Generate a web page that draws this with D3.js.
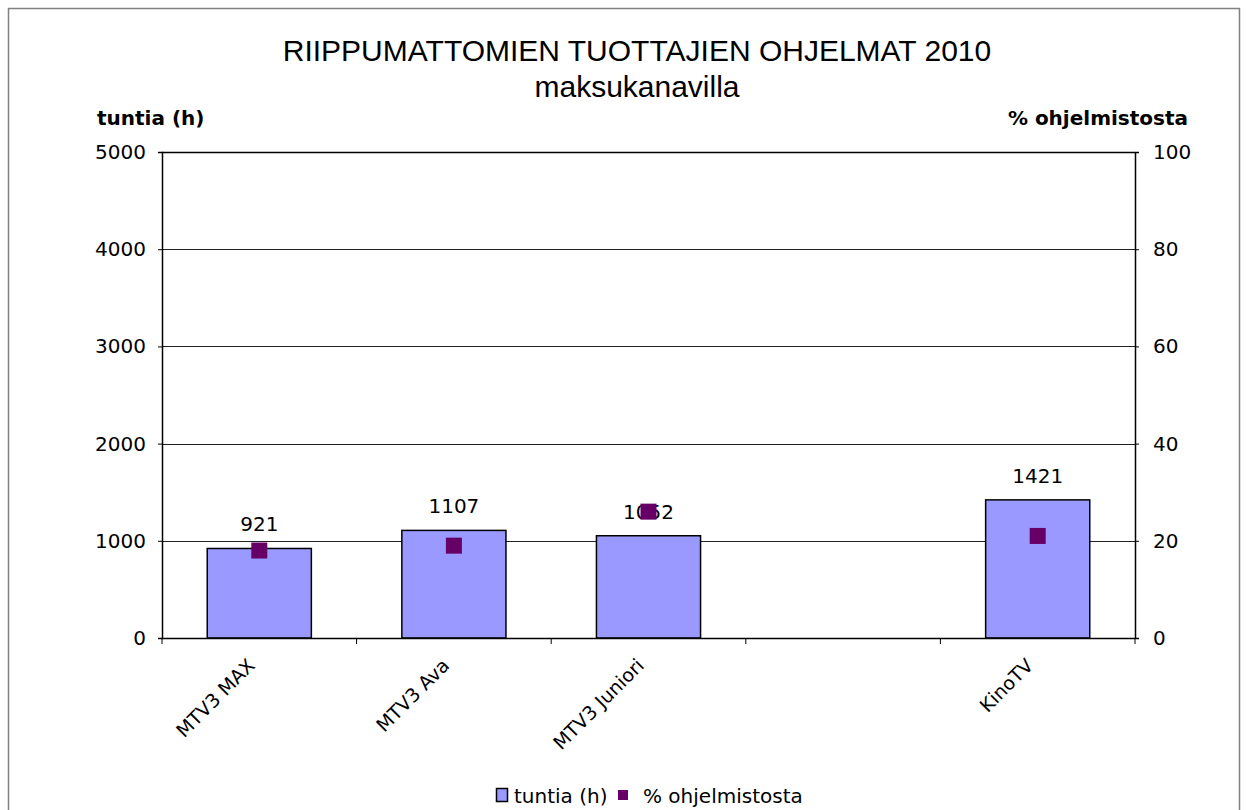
<!DOCTYPE html>
<html>
<head>
<meta charset="utf-8">
<script src="https://cdn.jsdelivr.net/npm/d3@7"></script>
<style>
  body { margin: 0; background: #fff; }
  svg { display: block; }
  text { font-family: "DejaVu Sans", Verdana, sans-serif; fill: #000; }
</style>
</head>
<body>
<div id="chart"></div>
<script>
// data
var categories = ['MTV3 MAX', 'MTV3 Ava', 'MTV3 Juniori', '', 'KinoTV'];
var hours = [921, 1107, 1052, null, 1421];
var percent = [18, 19, 26, null, 21];
var hourTicks = [0, 1000, 2000, 3000, 4000, 5000];
var percentTicks = [0, 20, 40, 60, 80, 100];

var width = 1248, height = 810;
var margin = { top: 152, right: 113, bottom: 172, left: 162 };
var innerW = width - margin.left - margin.right;
var innerH = height - margin.top - margin.bottom;
var fontFam = '"DejaVu Sans", Verdana, sans-serif';

var svg = d3.select('#chart').append('svg')
  .attr('width', width)
  .attr('height', height);

// outer chart border
svg.append('rect')
  .attr('x', 8.5).attr('y', 8.5)
  .attr('width', 1231).attr('height', 820)
  .attr('fill', 'none')
  .attr('stroke', '#808080')
  .attr('stroke-width', 1.5);

// title
svg.append('text')
  .attr('x', 637).attr('y', 61)
  .attr('text-anchor', 'middle')
  .style('font-family', '"Liberation Sans", Arial, sans-serif')
  .style('font-size', '30px')
  .text('RIIPPUMATTOMIEN TUOTTAJIEN OHJELMAT 2010');
svg.append('text')
  .attr('x', 637).attr('y', 97)
  .attr('text-anchor', 'middle')
  .style('font-family', '"Liberation Sans", Arial, sans-serif')
  .style('font-size', '30px')
  .text('maksukanavilla');

// axis titles
svg.append('text')
  .attr('x', 97).attr('y', 125)
  .style('font-size', '20px').style('font-weight', 'bold')
  .text('tuntia (h)');
svg.append('text')
  .attr('x', 1188).attr('y', 125)
  .attr('text-anchor', 'end')
  .style('font-size', '20px').style('font-weight', 'bold')
  .text('% ohjelmistosta');

var g = svg.append('g')
  .attr('transform', 'translate(' + margin.left + ',' + margin.top + ')');

// scales
var x = d3.scaleBand()
  .domain(d3.range(categories.length))
  .range([0, innerW])
  .paddingInner(0.465)
  .paddingOuter(0.2325);

var xb = d3.scaleBand()
  .domain(d3.range(categories.length))
  .range([0, innerW]);

var y = d3.scaleLinear().domain([0, 5000]).range([innerH, 0]);
var y2 = d3.scaleLinear().domain([0, 100]).range([innerH, 0]);

// gridlines
g.append('g')
  .selectAll('line')
  .data(hourTicks.slice(1, -1))
  .join('line')
  .attr('x1', 0).attr('x2', innerW)
  .attr('y1', d => Math.round(y(d)) + 0.5)
  .attr('y2', d => Math.round(y(d)) + 0.5)
  .attr('stroke', '#222')
  .attr('stroke-width', 1);

// top border of plot
g.append('line')
  .attr('x1', 0).attr('x2', innerW)
  .attr('y1', 0.5).attr('y2', 0.5)
  .attr('stroke', '#000').attr('stroke-width', 1.5);

var barData = hours.map((v, i) => ({ v: v, i: i })).filter(d => d.v != null);

// bars
g.append('g')
  .selectAll('rect')
  .data(barData)
  .join('rect')
  .attr('x', d => x(d.i))
  .attr('y', d => y(d.v))
  .attr('width', x.bandwidth())
  .attr('height', d => innerH - y(d.v))
  .attr('fill', '#9999FF')
  .attr('stroke', '#000')
  .attr('stroke-width', 1.5);

// bar labels
g.append('g')
  .selectAll('text')
  .data(barData)
  .join('text')
  .attr('x', d => x(d.i) + x.bandwidth() / 2)
  .attr('y', d => y(d.v) - 17)
  .attr('text-anchor', 'middle')
  .style('font-size', '20px')
  .text(d => d.v);

// percent markers
var ms = 16;
g.append('g')
  .selectAll('rect')
  .data(percent.map((v, i) => ({ v: v, i: i })).filter(d => d.v != null))
  .join('rect')
  .attr('x', d => xb(d.i) + xb.bandwidth() / 2 - ms / 2)
  .attr('y', d => y2(d.v) - ms / 2)
  .attr('width', ms).attr('height', ms)
  .attr('fill', '#660066');

// left axis
var yAxis = g.append('g')
  .call(d3.axisLeft(y).tickValues(hourTicks).tickFormat(d3.format('d')).tickSize(4).tickPadding(12));
yAxis.select('.domain').attr('stroke', '#000').attr('stroke-width', 1.5);
yAxis.selectAll('.tick text').style('font-size', '20px').style('font-family', fontFam);

// right axis
var y2Axis = g.append('g')
  .attr('transform', 'translate(' + innerW + ',0)')
  .call(d3.axisRight(y2).tickValues(percentTicks).tickFormat(d3.format('d')).tickSize(4).tickPadding(14));
y2Axis.select('.domain').attr('stroke', '#000').attr('stroke-width', 1.5);
y2Axis.selectAll('.tick text').style('font-size', '20px').style('font-family', fontFam);

// bottom axis line and ticks at band edges
g.append('line')
  .attr('x1', 0).attr('x2', innerW)
  .attr('y1', innerH + 0.5).attr('y2', innerH + 0.5)
  .attr('stroke', '#000').attr('stroke-width', 1.5);
g.append('g')
  .selectAll('line')
  .data(d3.range(categories.length + 1))
  .join('line')
  .attr('x1', d => d * xb.step()).attr('x2', d => d * xb.step())
  .attr('y1', innerH).attr('y2', innerH + 6)
  .attr('stroke', '#000');

// category labels
g.append('g')
  .selectAll('text')
  .data(categories.map((c, i) => ({ c: c, i: i })).filter(d => d.c))
  .join('text')
  .attr('transform', d => 'translate(' + (xb(d.i) + xb.bandwidth() / 2 - 8) + ',' + (innerH + 24) + ') rotate(-45)')
  .attr('text-anchor', 'end')
  .attr('dy', '0.35em')
  .style('font-size', '19px')
  .text(d => d.c);

// legend
var legend = svg.append('g').attr('transform', 'translate(496,788)');
legend.append('rect')
  .attr('x', 0.5).attr('y', 0.5).attr('width', 11).attr('height', 13)
  .attr('fill', '#9999FF').attr('stroke', '#000').attr('stroke-width', 1.5);
legend.append('text')
  .attr('x', 18).attr('y', 15)
  .style('font-size', '20px')
  .text('tuntia (h)');
legend.append('rect')
  .attr('x', 122).attr('y', 2).attr('width', 10).attr('height', 10)
  .attr('fill', '#660066');
legend.append('text')
  .attr('x', 147).attr('y', 15)
  .style('font-size', '20px')
  .text('% ohjelmistosta');
</script>
</body>
</html>
